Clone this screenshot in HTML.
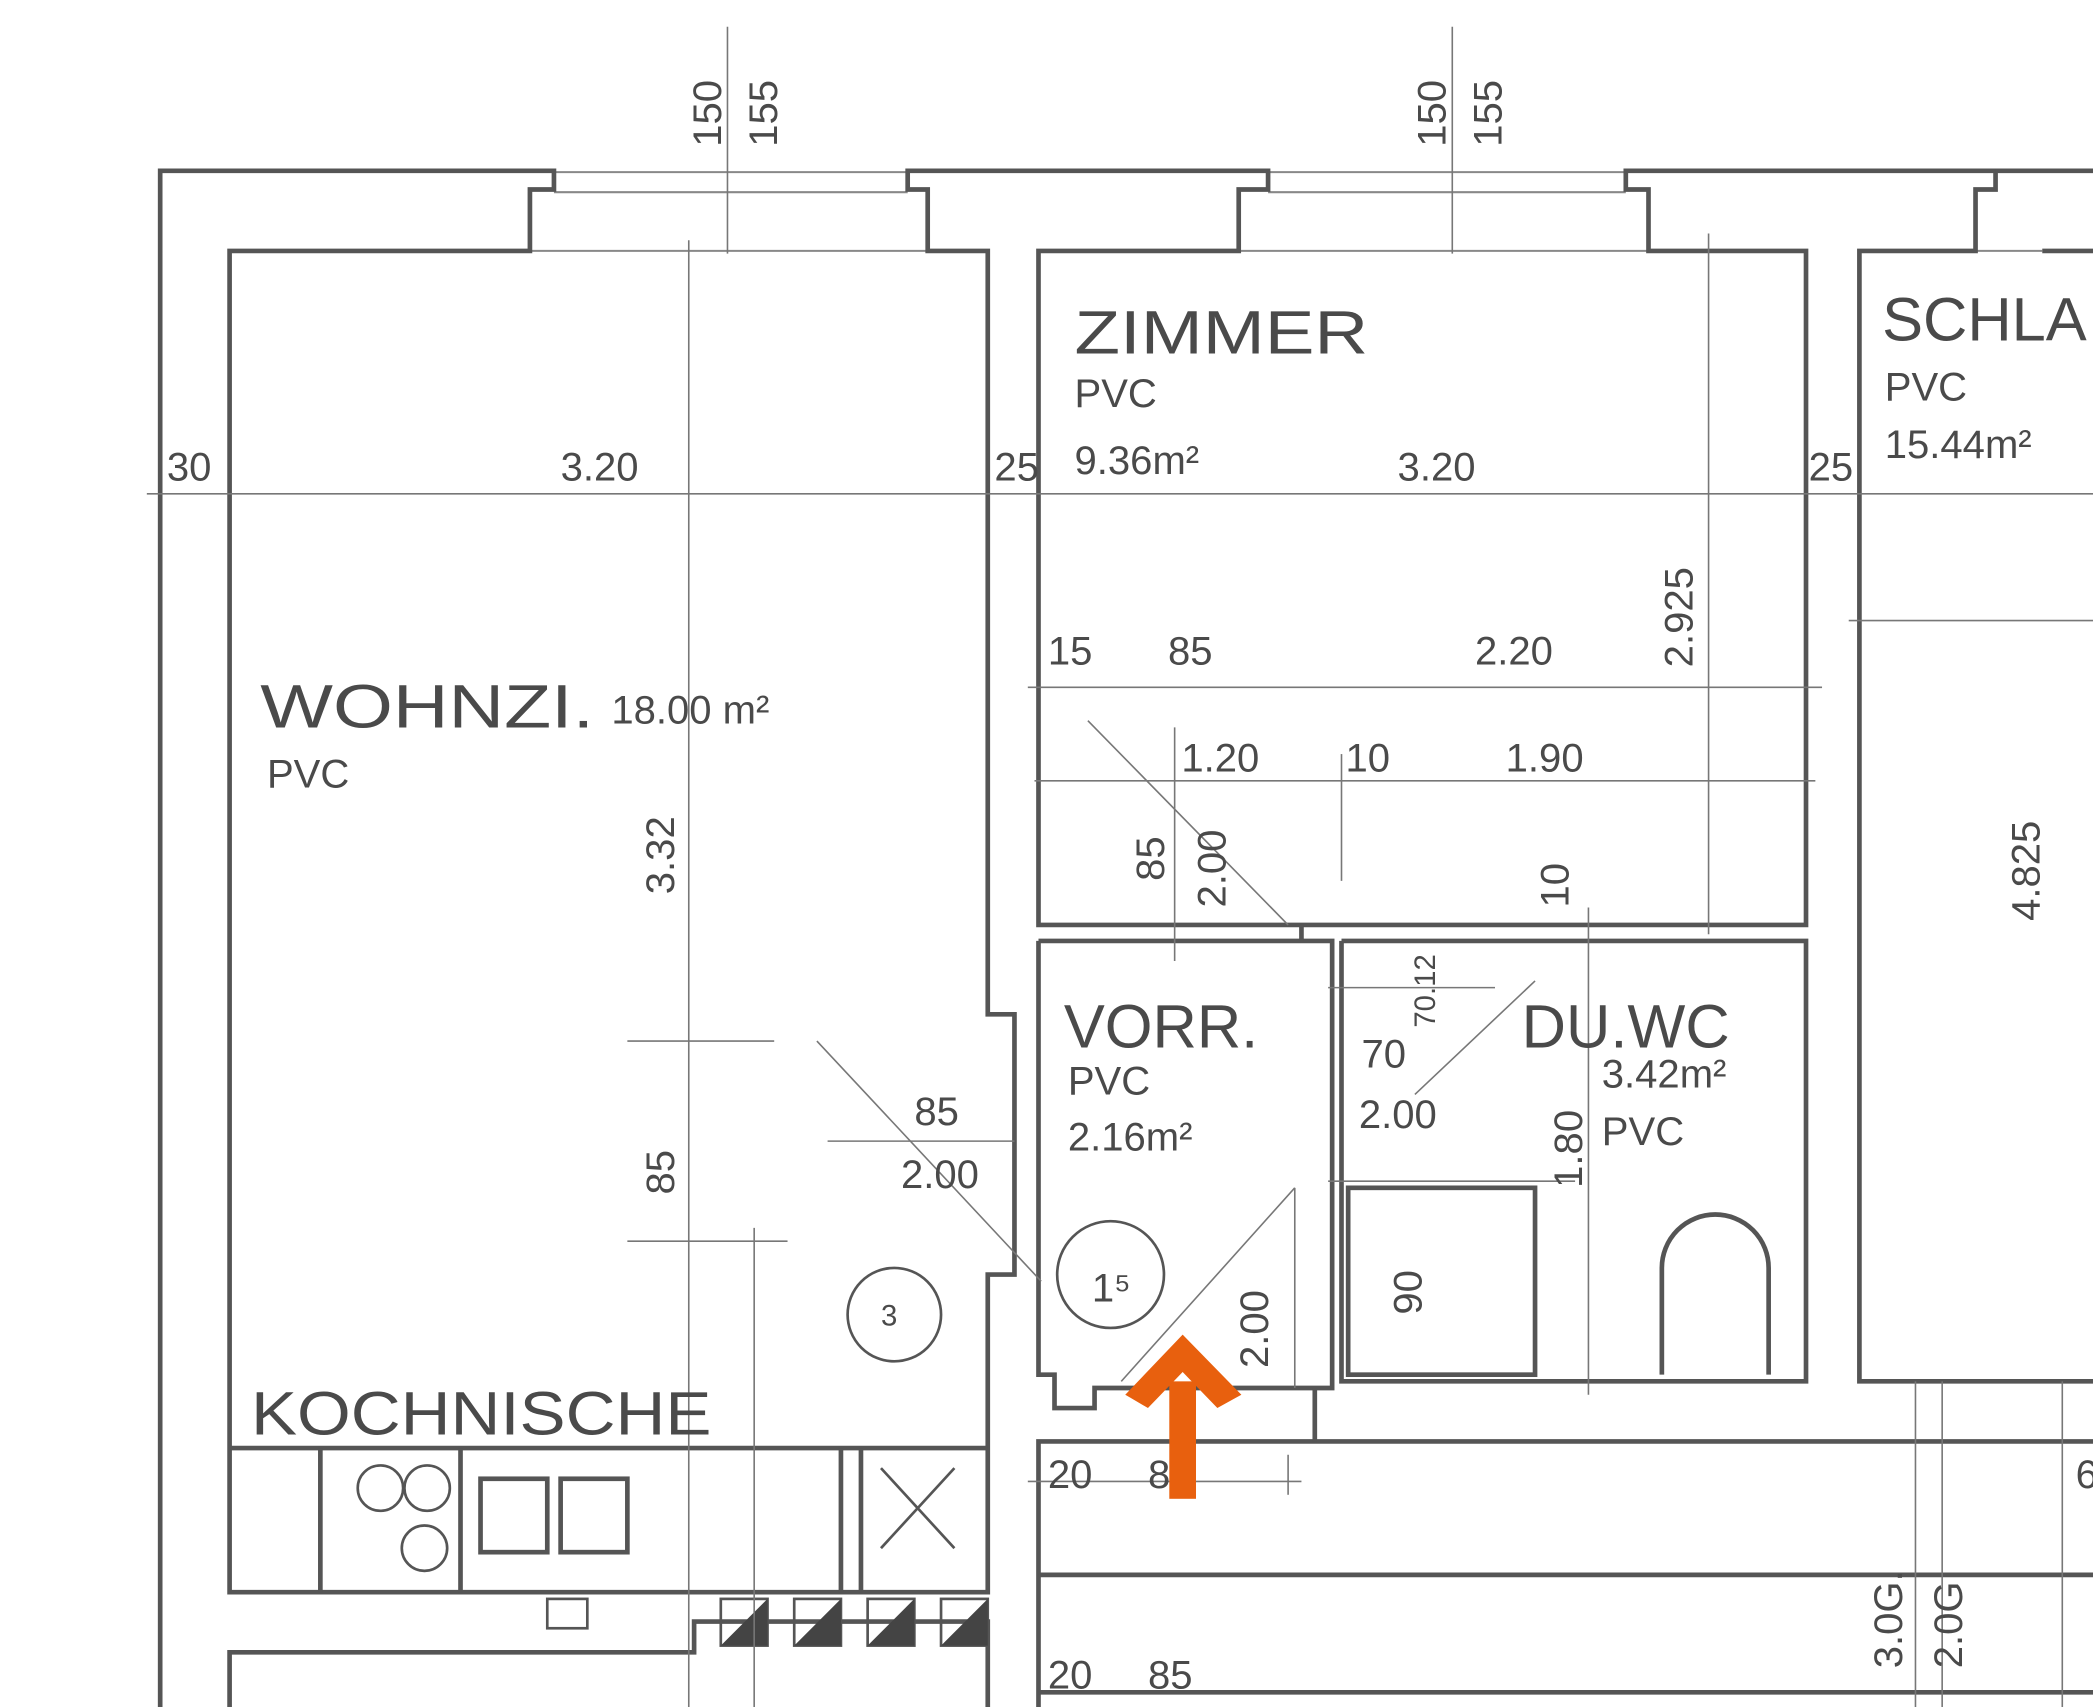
<!DOCTYPE html>
<html><head><meta charset="utf-8"><style>
html,body{margin:0;padding:0;background:#fff;}
svg{display:block}
text{font-family:"Liberation Sans",sans-serif;fill:#4a4a4a}
</style></head><body>
<svg width="2093" height="1707" viewBox="0 0 1568 1279" preserveAspectRatio="none" xmlns="http://www.w3.org/2000/svg">
<g stroke="#888" stroke-width="1.5" fill="none">
<line x1="415" y1="129" x2="680" y2="129"/><line x1="415" y1="144" x2="680" y2="144"/><line x1="397" y1="188" x2="695" y2="188"/>
<line x1="950" y1="129" x2="1218" y2="129"/><line x1="950" y1="144" x2="1218" y2="144"/><line x1="928" y1="188" x2="1235" y2="188"/>
<line x1="1480" y1="188" x2="1530" y2="188"/>
</g>
<g stroke="#555" stroke-width="3.5" fill="none">
<polyline points="120,1279 120,128 415,128 415,142 397,142 397,188 172,188 172,1193 740,1193 740,955 760,955 760,760 740,760 740,188 695,188 695,142 680,142 680,128 950,128 950,142 928,142 928,188 778,188 778,693 1353,693 1353,188 1235,188 1235,142 1218,142 1218,128 1495,128 1495,142 1480,142 1480,188 1393,188 1393,1035 1568,1035"/>
<line x1="1495" y1="128" x2="1568" y2="128"/>
<line x1="1530" y1="188" x2="1568" y2="188"/>
<polyline points="778,705 778,1030 790,1030 790,1055 820,1055 820,1040 998,1040 998,705 778,705"/>
<polyline points="1005,705 1353,705 1353,1035 1005,1035 1005,705"/>
<line x1="975" y1="693" x2="975" y2="705"/>
<polyline points="778,1279 778,1080 1568,1080"/>
<line x1="985" y1="1040" x2="985" y2="1080"/>
<line x1="778" y1="1180" x2="1568" y2="1180"/>
<line x1="778" y1="1268" x2="1568" y2="1268"/>
<line x1="172" y1="1085" x2="740" y2="1085"/>
<polyline points="172,1279 172,1238 520,1238 520,1215 740,1215 740,1279"/>
<rect x="360" y="1108" width="50" height="55"/>
<rect x="420" y="1108" width="50" height="55"/>
<line x1="240" y1="1085" x2="240" y2="1193"/>
<line x1="345" y1="1085" x2="345" y2="1193"/>
<line x1="630" y1="1085" x2="630" y2="1193"/>
<line x1="645" y1="1085" x2="645" y2="1193"/>
<rect x="1010" y="890" width="140" height="140"/>
<path d="M1245,1030 V950 a40,40 0 0 1 80,0 V1030"/>
</g>
<g stroke="#555" stroke-width="2" fill="none">
<circle cx="285" cy="1115" r="17"/><circle cx="320" cy="1115" r="17"/><circle cx="318" cy="1160" r="17"/>
<circle cx="670" cy="985" r="35"/><circle cx="832" cy="955" r="40"/>
<line x1="660" y1="1100" x2="715" y2="1160"/><line x1="715" y1="1100" x2="660" y2="1160"/>
<rect x="540" y="1198" width="35" height="35"/><rect x="595" y="1198" width="35" height="35"/><rect x="650" y="1198" width="35" height="35"/><rect x="705" y="1198" width="35" height="35"/>
<rect x="410" y="1198" width="30" height="22"/>
</g>
<g fill="#444">
<polygon points="540,1233 575,1198 575,1233"/><polygon points="595,1233 630,1198 630,1233"/><polygon points="650,1233 685,1198 685,1233"/><polygon points="705,1233 740,1198 740,1233"/>
</g>
<g stroke="#777" stroke-width="1.2" fill="none">
<line x1="110" y1="370" x2="1568" y2="370"/>
<line x1="516" y1="180" x2="516" y2="1279"/>
<line x1="545" y1="20" x2="545" y2="190"/>
<line x1="1088" y1="20" x2="1088" y2="190"/>
<line x1="1280" y1="175" x2="1280" y2="700"/>
<line x1="770" y1="515" x2="1365" y2="515"/>
<line x1="775" y1="585" x2="1360" y2="585"/>
<line x1="880" y1="545" x2="880" y2="720"/>
<line x1="1005" y1="565" x2="1005" y2="660"/>
<line x1="1190" y1="680" x2="1190" y2="1045"/>
<line x1="1385" y1="465" x2="1568" y2="465"/>
<line x1="470" y1="780" x2="580" y2="780"/>
<line x1="470" y1="930" x2="590" y2="930"/>
<line x1="565" y1="920" x2="565" y2="1279"/>
<line x1="612" y1="780" x2="780" y2="960"/>
<line x1="620" y1="855" x2="760" y2="855"/>
<line x1="815" y1="540" x2="965" y2="693"/>
<line x1="970" y1="890" x2="840" y2="1035"/>
<line x1="970" y1="890" x2="970" y2="1040"/>
<line x1="1150" y1="735" x2="1060" y2="820"/>
<line x1="995" y1="740" x2="1120" y2="740"/>
<line x1="995" y1="885" x2="1180" y2="885"/>
<line x1="770" y1="1110" x2="975" y2="1110"/>
<line x1="965" y1="1090" x2="965" y2="1120"/>
<line x1="1435" y1="1035" x2="1435" y2="1279"/>
<line x1="1455" y1="1035" x2="1455" y2="1279"/>
<line x1="1545" y1="1035" x2="1545" y2="1279"/>
</g>
<g font-size="46">
<text x="805" y="265" textLength="220" lengthAdjust="spacingAndGlyphs">ZIMMER</text>
<text x="1410" y="255">SCHLA</text>
<text x="195" y="545" textLength="250" lengthAdjust="spacingAndGlyphs">WOHNZI.</text>
<text x="797" y="785">VORR.</text>
<text x="1140" y="785">DU.WC</text>
<text x="188" y="1075" textLength="345" lengthAdjust="spacingAndGlyphs">KOCHNISCHE</text>
</g>
<g font-size="30">
<text x="805" y="305">PVC</text><text x="805" y="355">9.36m²</text>
<text x="1412" y="300">PVC</text><text x="1412" y="343">15.44m²</text>
<text x="200" y="590">PVC</text><text x="458" y="542">18.00 m²</text>
<text x="800" y="820">PVC</text><text x="800" y="862">2.16m²</text>
<text x="1200" y="815">3.42m²</text><text x="1200" y="858">PVC</text>
<text x="420" y="360">3.20</text><text x="1047" y="360">3.20</text>
<text x="125" y="360">30</text><text x="745" y="360">25</text><text x="1355" y="360">25</text>
<text x="785" y="498">15</text><text x="875" y="498">85</text><text x="1105" y="498">2.20</text>
<text x="885" y="578">1.20</text><text x="1008" y="578">10</text><text x="1128" y="578">1.90</text>
<text x="1020" y="800">70</text><text x="1018" y="845">2.00</text>
<text x="685" y="843">85</text><text x="675" y="890">2.00</text>
<text x="660" y="993" font-size="22">3</text><text x="818" y="975">1⁵</text>
<text x="785" y="1115">20</text><text x="860" y="1115">8</text>
<text x="785" y="1265">20</text><text x="860" y="1265">85</text>
<text x="1555" y="1115">6</text>
</g>
<g font-size="30">
<text transform="translate(540,110) rotate(-90)">150</text>
<text transform="translate(582,110) rotate(-90)">155</text>
<text transform="translate(1083,110) rotate(-90)">150</text>
<text transform="translate(1125,110) rotate(-90)">155</text>
<text transform="translate(1268,500) rotate(-90)">2.925</text>
<text transform="translate(505,670) rotate(-90)">3.32</text>
<text transform="translate(505,895) rotate(-90)">85</text>
<text transform="translate(872,660) rotate(-90)">85</text>
<text transform="translate(918,680) rotate(-90)">2.00</text>
<text transform="translate(1528,690) rotate(-90)">4.825</text>
<text transform="translate(1175,680) rotate(-90)">10</text>
<text transform="translate(1185,890) rotate(-90)">1.80</text>
<text transform="translate(1065,985) rotate(-90)">90</text>
<text transform="translate(950,1025) rotate(-90)">2.00</text>
<text transform="translate(1075,770) rotate(-90)" font-size="22">70.12</text>
<text transform="translate(1425,1250) rotate(-90)">3.0G.</text>
<text transform="translate(1470,1250) rotate(-90)">2.0G</text>
</g>
<g fill="#e8600e">
<rect x="876" y="1035" width="20" height="88"/>
<polygon points="843,1045 886,1000 930,1045 912,1055 886,1028 860,1055"/>
</g>
</svg>
</body></html>
